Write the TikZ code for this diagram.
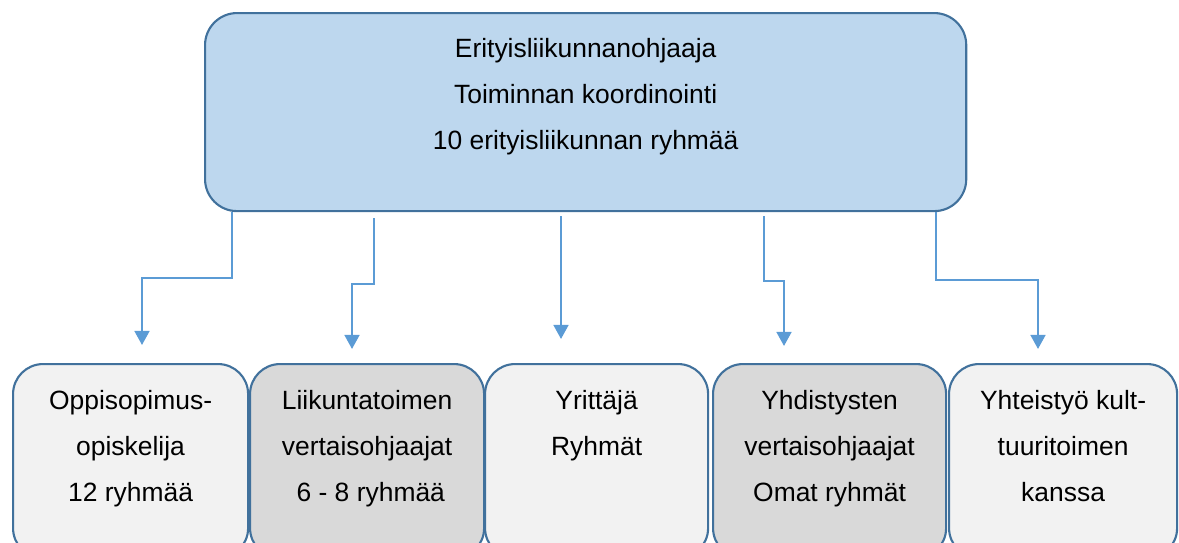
\documentclass[tikz,border=0pt]{standalone}
\usepackage{fontspec}
\setmainfont{Liberation Sans}
\usepackage{tikz}
\usetikzlibrary{arrows.meta}
\definecolor{topfill}{RGB}{189,215,238}
\definecolor{boxline}{RGB}{65,113,156}
\definecolor{connblue}{RGB}{91,155,213}
\definecolor{lgray}{RGB}{242,242,242}
\definecolor{dgray}{RGB}{217,217,217}
\tikzset{
  tbox/.style={draw=boxline, line width=1.5pt, fill=topfill, rounded corners=0.8cm,
    anchor=north west, inner sep=0pt, align=center, minimum width=19.025cm,
    minimum height=4.95cm, text height=1.95cm, text depth=0.1cm},
  pbox/.style={draw=boxline, line width=1.5pt, rounded corners=0.75cm,
    anchor=north west, inner sep=0pt, align=center, minimum height=4.85cm,
    text height=2.1cm, text depth=0.1cm},
  conn/.style={connblue, line width=1.7pt, -{Triangle[width=10.5pt, length=10pt]}},
}

\begin{document}
\begin{tikzpicture}[x=0.025cm, y=-0.025cm, font={\fontsize{18.8}{32.4}\selectfont}]
  \useasboundingbox (0,0) rectangle (1179,542);
  \clip (0,0) rectangle (1179,542);
  \node[tbox] (ohjaaja) at (204,12) {Erityisliikunnanohjaaja\\Toiminnan koordinointi\\10 erityisliikunnan ryhmää};
  \node[pbox, fill=lgray, minimum width=5.875cm] (oppis) at (12,363) {Oppisopimus-\\opiskelija\\12 ryhmää};
  \node[pbox, fill=dgray, minimum width=5.85cm] (liikunta) at (249,363) {Liikuntatoimen\\vertaisohjaajat\\\ 6 - 8 ryhmää};
  \node[pbox, fill=lgray, minimum width=5.575cm, text height=0.5cm, text depth=0.8cm] (yrittaja) at (484,363) {Yrittäjä\\Ryhmät};
  \node[pbox, fill=dgray, minimum width=5.825cm] (yhdistys) at (712,363) {Yhdistysten\\vertaisohjaajat\\Omat ryhmät};
  \node[pbox, fill=lgray, minimum width=5.7cm] (kulttuuri) at (948,363) {Yhteistyö kult-\\tuuritoimen\\kanssa};
  \coordinate (s2) at (374,218); \coordinate (s3) at (561,216); \coordinate (s4) at (764,216);
  \coordinate (t1) at (142,345); \coordinate (t2) at (352,349); \coordinate (t3) at (561,339);
  \coordinate (t4) at (784,346); \coordinate (t5) at (1038,349);
  \draw[conn] (ohjaaja.south -| 232,0) -- (232,278) -| (t1);
  \draw[conn] (s2) -- (374,284) -| (t2);
  \draw[conn] (s3) -- (t3);
  \draw[conn] (s4) -- (764,281) -| (t4);
  \draw[conn] (ohjaaja.south -| 936,0) -- (936,280) -| (t5);
\end{tikzpicture}
\end{document}
